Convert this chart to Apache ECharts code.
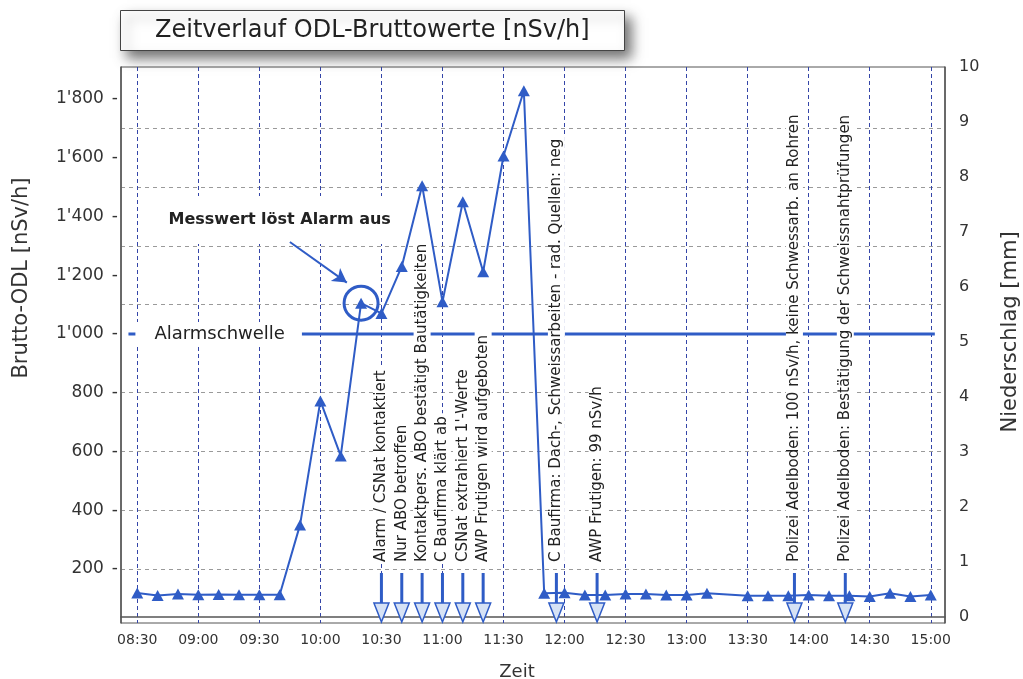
<!DOCTYPE html>
<html>
<head>
<meta charset="utf-8">
<script src="https://cdn.jsdelivr.net/npm/echarts@6/dist/echarts.min.js"></script>
<style>html,body{margin:0;padding:0;background:#fff;}#c{width:1023px;height:679px;}</style>
</head>
<body>
<div id="c"></div>
<script>
// ---- data ----
var times = ['08:30','08:40','08:50','09:00','09:10','09:20','09:30','09:40','09:50','10:00','10:10','10:20','10:30','10:40','10:50','11:00','11:10','11:20','11:30','11:40','11:50','12:00','12:10','12:20','12:30','12:40','12:50','13:00','13:10','13:30','13:40','13:50','14:00','14:10','14:20','14:30','14:40','14:50','15:00'];
var odlValues = [118,110,115,112,113,112,112,112,350,772,585,1105,1070,1230,1505,1110,1450,1212,1606,1828,117,119,111,111,115,115,111,111,117,109,109,109,111,109,109,106,117,106,111];
var eventTimes = ['10:30','10:40','10:50','11:00','11:10','11:20','11:56','12:16','13:53','14:18'];
var eventTexts = [
  'Alarm / CSNat kontaktiert',
  'Nur ABO betroffen',
  'Kontaktpers. ABO bestätigt Bautätigkeiten',
  'C Baufirma klärt ab',
  'CSNat extrahiert 1\'-Werte',
  'AWP Frutigen wird aufgeboten',
  'C Baufirma: Dach-, Schweissarbeiten - rad. Quellen: neg',
  'AWP Frutigen: 99 nSv/h',
  'Polizei Adelboden: 100 nSv/h, keine Schwessarb. an Rohren',
  'Polizei Adelboden: Bestätigung der Schweissnahtprüfungen'
];
var alarmThreshold = 1000;
var thresholdSpan = ['08:25:40','15:02'];
var thresholdLabel = 'Alarmschwelle';
var thresholdLabelAt = '09:10';
var alarmNote = 'Messwert löst Alarm aus';
var alarmNoteAt = ['09:40', 1388];
var alarmPointTime = '10:20';
var alarmArrow = [['09:45', 1313], ['10:13', 1175]];
var timeTicks = ['08:30','09:00','09:30','10:00','10:30','11:00','11:30','12:00','12:30','13:00','13:30','14:00','14:30','15:00'];
var timeRange = ['08:22','15:07'];
var odlTicks = [200,400,600,800,1000,1200,1400,1600,1800];
var odlRange = [16, 1909];
var gridLevels = [200,400,600,800,1100,1300,1500,1700];
var rainTicks = [0,1,2,3,4,5,6,7,8,9,10];
var rainRange = [-0.11, 10];

function toMin(s){ var p = s.split(':'); return (+p[0])*60 + (+p[1]) + (p[2] ? (+p[2])/60 : 0); }
function fmtTime(v){ var h = Math.floor(v/60), m = Math.round(v - h*60); return (h<10?'0':'')+h+':'+(m<10?'0':'')+m; }
function fmtOdl(v){ return v >= 1000 ? Math.floor(v/1000) + "'" + String(v%1000).padStart(3,'0') : String(v); }

var FONT = '"DejaVu Sans", Verdana, sans-serif';
var BLUE = '#2f5cc6';
var tickMins = timeTicks.map(toMin);
var odlData = times.map(function(t,i){ return [toMin(t), odlValues[i]]; });

var chart = echarts.init(document.getElementById('c'), null, {renderer:'canvas'});
chart.setOption({
  animation: false,
  backgroundColor: '#fff',
  textStyle: {fontFamily: FONT},
  title: {
    text: 'Zeitverlauf ODL-Bruttowerte [nSv/h]',
    left: 120, top: 10,
    padding: [9, 35, 8, 35],
    backgroundColor: '#fff',
    borderColor: '#444', borderWidth: 1,
    shadowBlur: 12, shadowColor: 'rgba(0,0,0,0.55)', shadowOffsetX: 6, shadowOffsetY: 7,
    textStyle: {fontFamily: FONT, fontSize: 24, fontWeight: 'normal', color: '#222'}
  },
  grid: {left: 121, right: 78, top: 67, bottom: 56, show: true, borderColor: '#555', borderWidth: 1, backgroundColor: 'rgba(0,0,0,0)', containLabel: false, outerBoundsMode: 'none'},
  graphic: [
    {type:'text', x:22, y:278, rotation: Math.PI/2, style:{text:'Brutto-ODL [nSv/h]', font:'21px ' + FONT, fill:'#333', align:'center', verticalAlign:'middle'}},
    {type:'text', x:1011, y:332, rotation: Math.PI/2, style:{text:'Niederschlag [mm]', font:'21px ' + FONT, fill:'#333', align:'center', verticalAlign:'middle'}},
    {type:'text', x:517, y:672, style:{text:'Zeit', font:'18px ' + FONT, fill:'#333', align:'center', verticalAlign:'middle'}}
  ],
  xAxis: {
    type: 'value', min: toMin(timeRange[0]), max: toMin(timeRange[1]),
    axisLine: {show: true, lineStyle: {color: '#555', width: 1.5}},
    axisTick: {show: false, customValues: tickMins},
    axisLabel: {customValues: tickMins, formatter: fmtTime, color: '#333', fontSize: 14, fontFamily: FONT, margin: 10},
    splitLine: {show: true, lineStyle: {color: '#3445a8', type: [4, 3], width: 1}}
  },
  yAxis: [
    {
      type: 'value', position: 'left', min: odlRange[0], max: odlRange[1],
      axisLine: {show: true, lineStyle: {color: '#555', width: 1.5}},
      axisTick: {show: false, customValues: odlTicks},
      axisLabel: {customValues: odlTicks, margin: 3, formatter: function(v){ return '{n|' + fmtOdl(v) + '}{d|-}'; },
        rich: {n: {fontSize: 17, color: '#333', fontFamily: FONT}, d: {fontSize: 17, color: '#333', fontFamily: FONT, padding: [0,0,0,8]}}},
      splitLine: {show: false}
    },
    {
      type: 'value', position: 'right', min: rainRange[0], max: rainRange[1],
      axisLine: {show: true, lineStyle: {color: '#555', width: 1.5}},
      axisTick: {show: false, customValues: rainTicks},
      axisLabel: {customValues: rainTicks, margin: 14, color: '#333', fontSize: 16, fontFamily: FONT},
      splitLine: {show: false}
    },
    {
      type: 'value', position: 'left', min: odlRange[0], max: odlRange[1],
      axisLine: {show: false}, axisLabel: {show: false},
      axisTick: {show: false, customValues: gridLevels},
      splitLine: {show: true, lineStyle: {color: '#9a9a9a', type: [4, 4], width: 1}}
    }
  ],
  series: [
    {
      name: 'Alarmschwelle', type: 'line', yAxisIndex: 0, z: 2,
      data: thresholdSpan.map(function(t){ return [toMin(t), alarmThreshold]; }),
      symbol: 'none', lineStyle: {color: BLUE, width: 3}, silent: true
    },
    {
      name: 'ODL', type: 'line', yAxisIndex: 0, z: 3,
      data: odlData,
      symbol: 'triangle', symbolSize: [12, 11], showSymbol: true,
      itemStyle: {color: BLUE},
      lineStyle: {color: BLUE, width: 2}
    },
    {
      name: 'thresholdLabel', type: 'scatter', yAxisIndex: 0, z: 4, silent: true,
      data: [[toMin(thresholdLabelAt), alarmThreshold]],
      symbolSize: 1,
      itemStyle: {opacity: 1, color: '#fff'},
      label: {show: true, position: 'inside', formatter: thresholdLabel, color: '#222', opacity: 1, fontSize: 18, fontFamily: FONT, backgroundColor: '#fff', padding: [3, 17, 3, 19]}
    },
    {
      name: 'alarmNote', type: 'scatter', yAxisIndex: 0, z: 6, silent: true,
      data: [[toMin(alarmNoteAt[0]), alarmNoteAt[1]]],
      symbolSize: 1,
      itemStyle: {opacity: 1, color: '#fff'},
      label: {show: true, position: 'inside', formatter: alarmNote, color: '#222', opacity: 1, fontSize: 16, fontWeight: 'bold', fontFamily: FONT, backgroundColor: '#fff', padding: [20, 10, 12, 10]},
      markPoint: {
        silent: true, z: 7,
        data: [{coord: [toMin(alarmPointTime), odlValues[times.indexOf(alarmPointTime)]], symbol: 'circle', symbolSize: 34,
          itemStyle: {color: 'rgba(0,0,0,0)', borderColor: BLUE, borderWidth: 3, opacity: 1}, label: {show: false}}]
      },
      markLine: {
        silent: true, z: 7,
        symbol: ['none', 'arrow'], symbolSize: [12, 14],
        lineStyle: {color: BLUE, width: 2, type: 'solid', opacity: 1},
        label: {show: false},
        data: [[{coord: [toMin(alarmArrow[0][0]), alarmArrow[0][1]]}, {coord: [toMin(alarmArrow[1][0]), alarmArrow[1][1]]}]]
      }
    },
    {
      name: 'events', type: 'custom', yAxisIndex: 0, z: 5, silent: true,
      data: eventTimes.map(function(t){ return [toMin(t), 0]; }),
      encode: {x: 0, y: 1},
      renderItem: function(params, api){
        var x = api.coord([api.value(0), odlRange[0]])[0];
        var cs = params.coordSys;
        var yb = cs.y + cs.height;
        return {type: 'group', children: [
          {type: 'rect', shape: {x: x - 1.5, y: yb - 50, width: 3, height: 31}, style: {fill: BLUE}},
          {type: 'polygon', shape: {points: [[x - 7.5, yb - 20], [x + 7.5, yb - 20], [x, yb - 1]]}, style: {fill: '#d6e2f5', stroke: BLUE, lineWidth: 1.5}},
          {type: 'text', x: x, y: yb - 59, rotation: Math.PI/2, style: {text: eventTexts[params.dataIndex], fill: '#222', font: '15px ' + FONT, align: 'left', verticalAlign: 'middle', backgroundColor: '#fff', padding: [1, 3, 1, 2]}}
        ]};
      }
    }
  ]
});
</script>
</body>
</html>
